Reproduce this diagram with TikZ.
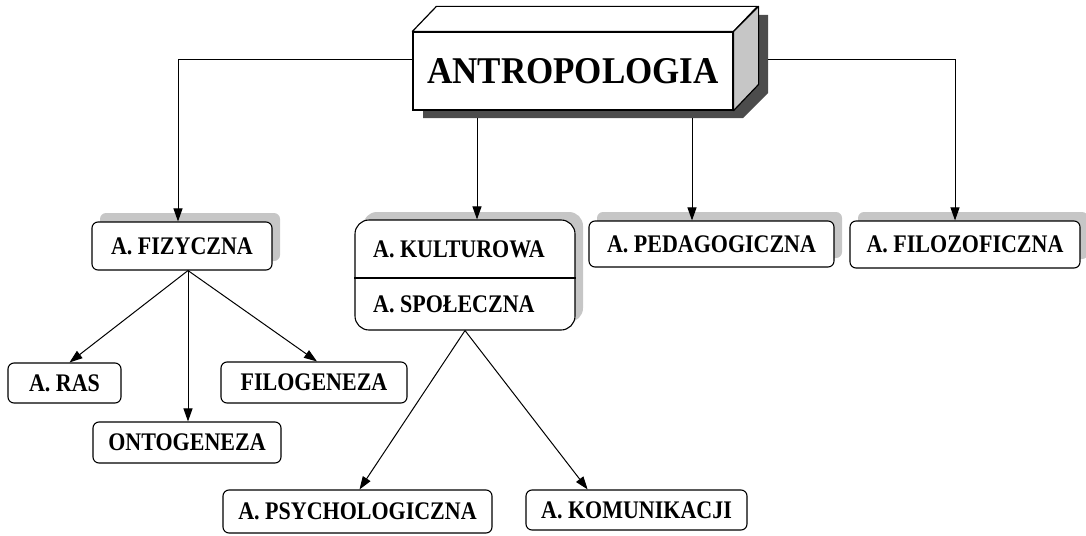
\documentclass[tikz,border=0pt]{standalone}
\usepackage{fontspec}
\usepackage{graphicx}
\setmainfont{Liberation Serif}
\usetikzlibrary{arrows.meta,shadows,calc}
\newcommand{\tall}[1]{\scalebox{1}[1.15]{#1}}
\tikzset{
  txt/.style={font=\fontsize{22}{24}\selectfont\bfseries},
  box/.style={draw, line width=1.1pt, rounded corners=6pt, fill=white, inner sep=0pt, txt},
  shbox/.style={box, drop shadow={shadow xshift=8pt, shadow yshift=9pt, fill=gray!45, opacity=1}},
  arr/.style={line width=1pt, -{Triangle[length=13pt,width=9pt]}},
  face/.style={draw, line width=1.2pt, line join=round}
}
\begin{document}
\begin{tikzpicture}[x=1pt,y=-1pt]
\useasboundingbox (0,0) rectangle (1086,535);
% main 3D box
\fill[black!70] (423,40) -- (447,15) -- (768,15) -- (768,93) -- (743,118) -- (423,118) -- cycle;
\node[draw, line width=1.2pt, fill=white, minimum width=320pt, minimum height=78pt, inner sep=0pt,
  font=\fontsize{35}{40}\selectfont\bfseries] (ant) at (573,71) {\scalebox{1}[1.08]{ANTROPOLOGIA}};
\draw[face, fill=white] (ant.north west) -- ++(24,-25) -- ++(321,0) -- (ant.north east) -- cycle;
\draw[face, fill=gray!45] (ant.north east) -- ++(25,-25) -- ++(0,78) -- (ant.south east) -- cycle;

% first level
\node[shbox, minimum width=180pt, minimum height=48pt] (fiz) at (182,246) {\tall{A. FIZYCZNA}};
\node[box, rounded corners=14pt, minimum width=220pt, minimum height=110pt,
  drop shadow={shadow xshift=8pt, shadow yshift=8pt, fill=gray!45, opacity=1}] (kult) at (465,275) {};
\node[txt, anchor=west, inner sep=0pt] (kt) at (373,249) {\tall{A. KULTUROWA}};
\node[txt, anchor=west, inner sep=0pt] (st) at (373,304) {\tall{A. SPOŁECZNA}};
\draw[line width=1.5pt] (kult.west |- 0,278) -- (kult.east |- 0,278);
\node[shbox, minimum width=245pt, minimum height=46pt] (ped) at (711.5,244) {\tall{A. PEDAGOGICZNA}};
\node[shbox, minimum width=230pt, minimum height=47pt] (filoz) at (965,244.5) {\tall{A. FILOZOFICZNA}};

% second level
\node[box, minimum width=113pt, minimum height=40pt] (ras) at (64.5,383) {\tall{A. RAS}};
\node[box, minimum width=188pt, minimum height=41pt] (onto) at (187,442.5) {\tall{ONTOGENEZA}};
\node[box, minimum width=186pt, minimum height=41pt] (filog) at (314,382.5) {\tall{FILOGENEZA}};
\node[box, minimum width=269pt, minimum height=43pt] (psych) at (357.5,511.5) {\tall{A. PSYCHOLOGICZNA}};
\node[box, minimum width=221pt, minimum height=40pt] (komun) at (636.5,510) {\tall{A. KOMUNIKACJI}};

% connectors
\coordinate (k0) at (477,118);
\coordinate (p0) at (692,118);
\draw[arr] ([yshift=11pt]ant.west) -| ([xshift=-4pt]fiz.north);
\draw[arr] ([xshift=34pt,yshift=11pt]ant.east) -| ([xshift=-10pt]filoz.north);
\draw[arr] (k0) -- (k0 |- kult.north);
\draw[arr] (p0) -- (p0 |- ped.north);

\draw[arr] ([xshift=6pt]fiz.south) -- ([xshift=5pt]ras.north);
\draw[arr] ([xshift=6pt]fiz.south) -- ([xshift=1pt]onto.north);
\draw[arr] ([xshift=6pt]fiz.south) -- ([xshift=3pt]filog.north);

\draw[arr] (kult.south) -- ([xshift=2pt]psych.north);
\draw[arr] (kult.south) -- ($(komun.north west)!0.28!(komun.north east)$);
\end{tikzpicture}
\end{document}
